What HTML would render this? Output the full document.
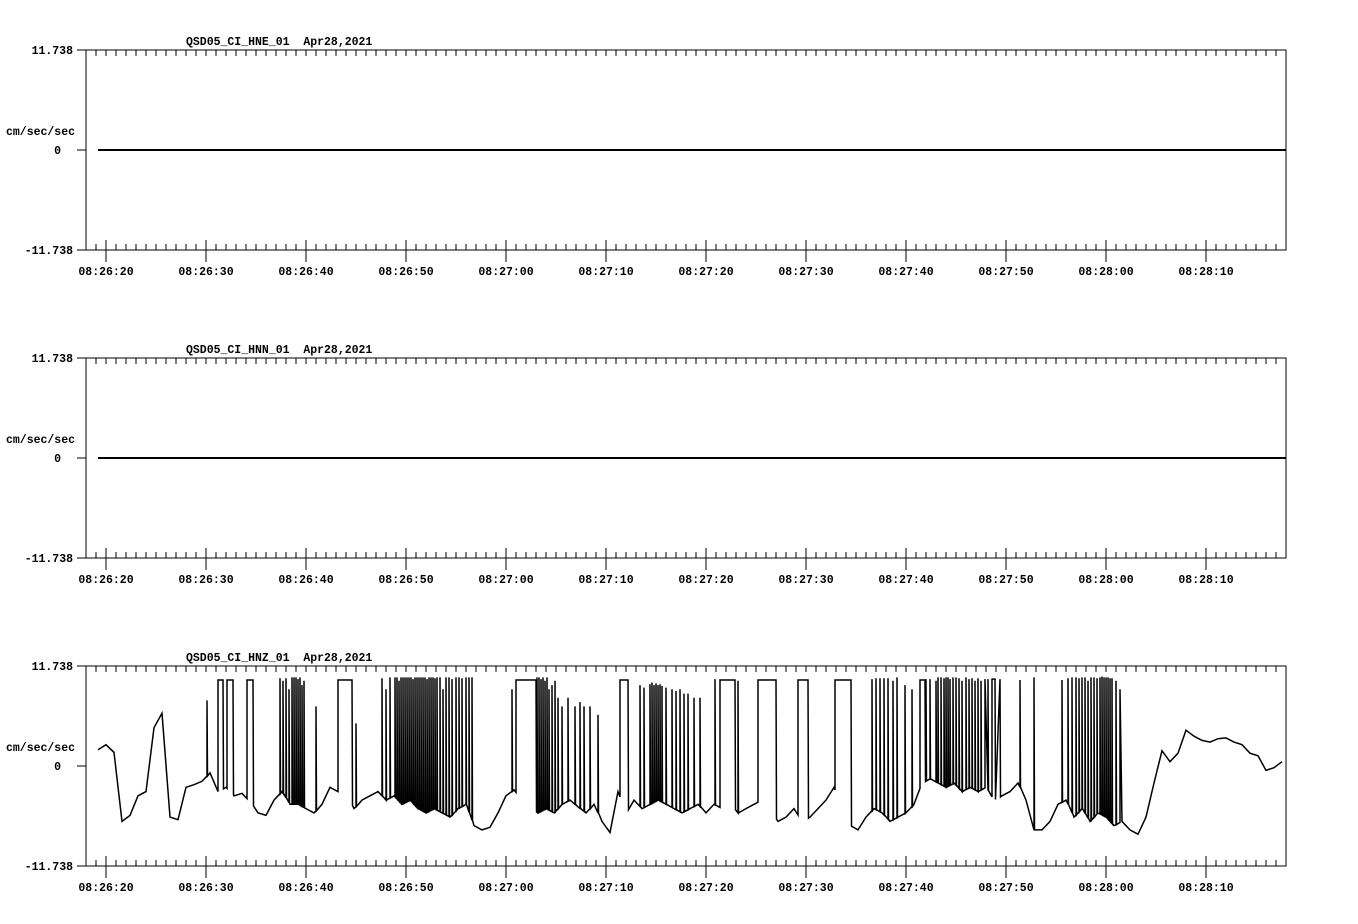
<!DOCTYPE html>
<html><head><meta charset="utf-8"><style>
body{margin:0;background:#fff}
svg{display:block}
text{font-family:"Liberation Mono",monospace;font-weight:bold;font-size:11.5px;fill:#000;white-space:pre}
</style></head><body>
<svg id="chart" width="1358" height="924" viewBox="0 0 1358 924" xmlns="http://www.w3.org/2000/svg"></svg>
<script>
const channels = ["QSD05_CI_HNE_01", "QSD05_CI_HNN_01", "QSD05_CI_HNZ_01"];
const dateLabel = "Apr28,2021";
const yMaxLabel = "11.738";
const yMax = 11.738;
const tickLabels = ["08:26:20","08:26:30","08:26:40","08:26:50","08:27:00","08:27:10","08:27:20","08:27:30","08:27:40","08:27:50","08:28:00","08:28:10"];
// baseline samples every 0.8 s starting at t=-0.8 s (relative to 08:26:20)
const hnzBaseline = [1.9,2.5,1.6,-6.5,-5.8,-3.5,-3.0,4.5,6.2,-6.0,-6.3,-2.5,-2.2,-1.8,-0.8,-3.0,-2.5,-3.5,-3.2,-4.2,-5.5,-5.8,-4.0,-3.0,-4.5,-4.5,-5.0,-5.5,-4.5,-2.5,-3.0,-3.5,-5.0,-4.0,-3.5,-3.0,-4.0,-3.5,-4.5,-4.0,-5.0,-5.5,-5.0,-5.5,-6.0,-5.0,-4.5,-7.0,-7.5,-7.2,-5.5,-3.5,-2.8,-4.0,-5.0,-5.5,-5.0,-5.5,-4.5,-4.0,-4.8,-5.5,-4.5,-6.5,-7.8,-3.0,-5.5,-4.0,-5.0,-4.5,-4.0,-4.5,-5.0,-5.5,-5.0,-4.5,-5.5,-4.5,-5.0,-4.5,-5.5,-5.0,-4.5,-4.0,-5.5,-6.5,-6.0,-5.0,-6.5,-6.0,-5.0,-4.0,-2.5,-5.0,-7.0,-7.5,-6.0,-5.0,-5.5,-6.5,-6.0,-5.5,-4.5,-2.0,-1.5,-2.0,-2.5,-2.0,-3.0,-2.5,-3.0,-2.5,-4.0,-3.5,-3.0,-2.0,-4.0,-7.5,-7.5,-6.5,-4.5,-4.0,-6.0,-5.0,-6.5,-5.5,-6.0,-7.0,-6.5,-7.5,-8.0,-6.0,-2.0,1.8,0.5,1.5,4.2,3.5,3.0,2.8,3.2,3.3,2.8,2.5,1.5,1.2,-0.5,-0.2,0.5,0.4];
// spikes: time (s), peak value, hold (s)
const spikeTimes = [10.1,11.2,12.1,14.1,17.4,17.7,18.0,18.3,18.6,18.8,19.0,19.2,19.4,19.6,19.8,21.0,23.2,25.0,27.6,28.0,28.4,28.9,29.1,29.3,29.5,29.7,29.9,30.1,30.3,30.5,30.7,30.9,31.1,31.3,31.5,31.7,31.9,32.1,32.3,32.5,32.7,32.9,33.1,33.4,33.7,34.0,34.3,34.6,35.0,35.3,35.6,36.0,36.3,36.6,40.6,41.0,43.1,43.3,43.5,43.7,43.9,44.1,44.3,44.6,44.9,45.2,45.6,46.2,46.9,47.4,47.8,48.4,49.2,51.4,53.4,53.8,54.4,54.6,54.8,55.0,55.2,55.4,55.6,56.0,56.6,57.0,57.4,57.8,58.2,58.8,59.4,60.9,61.4,63.2,65.2,69.2,72.9,76.6,77.0,77.4,77.8,78.2,78.7,79.1,79.9,80.6,81.4,82.0,82.4,83.0,83.2,83.5,83.8,84.0,84.2,84.4,84.7,85.0,85.3,85.6,86.0,86.3,86.6,86.9,87.2,87.5,87.9,88.2,88.6,91.4,92.8,95.6,96.2,96.6,97.0,97.3,97.6,97.9,98.2,98.5,98.8,99.1,99.4,99.6,99.8,100.0,100.2,100.4,100.6,101.0,101.4,101.9,102.2];
const spikePeaks = [7.7,10.1,10.1,10.1,10.3,10.0,10.3,9.0,10.4,10.4,10.4,10.2,10.4,9.5,10.0,7.0,10.1,5.0,10.3,9.0,10.4,10.4,10.4,10.0,10.4,10.4,10.4,10.4,10.4,10.4,10.2,10.4,10.4,10.4,10.4,10.4,10.4,10.2,10.4,10.4,10.4,10.3,10.4,10.4,9.0,10.4,10.4,10.2,10.4,10.4,10.3,10.4,10.4,10.4,9.0,10.1,10.4,10.4,10.2,10.4,10.0,10.4,9.0,9.5,10.0,8.0,7.0,8.0,7.0,7.5,7.0,7.0,6.0,10.1,9.5,9.2,9.6,9.8,9.5,9.7,9.5,9.6,9.4,9.2,9.0,8.8,9.0,8.5,8.5,8.0,8.0,10.2,10.1,10.0,10.1,10.1,10.1,10.2,10.3,10.3,10.3,10.3,10.0,10.4,9.5,9.0,10.1,10.2,10.2,10.0,10.4,10.4,10.3,10.4,10.4,10.2,10.4,10.4,10.3,10.0,10.4,10.2,10.3,10.0,10.3,10.0,10.2,10.2,10.2,10.1,10.4,10.1,10.3,10.4,10.4,10.3,10.4,10.4,10.0,10.4,10.4,10.3,10.4,10.5,10.4,10.4,10.4,10.3,10.3,10.0,9.0,10.3,10.3];
const spikeHolds = [0,0.5,0.6,0.6,0,0,0,0,0,0,0,0,0,0,0,0,1.4,0,0,0,0,0,0,0,0,0,0,0,0,0,0,0,0,0,0,0,0,0,0,0,0,0,0,0,0,0,0,0,0,0,0,0,0,0,0,2.0,0,0,0,0,0,0,0,0,0,0,0,0,0,0,0,0,0,0.8,0,0,0,0,0,0,0,0,0,0,0,0,0,0,0,0,0,0,1.5,0,1.8,1.0,1.6,0,0,0,0,0,0,0,0,0,0.5,0,0,0,0,0,0,0,0,0,0,0,0,0,0,0,0,0,0,0,1.0,0,0.8,0,0,0,0,0,0,0,0,0,0,0,0,0,0,0,0,0,0,0,0,0];

const NS="http://www.w3.org/2000/svg";
const svg=document.getElementById('chart');
const X0=86,X1=1286;
const xOf=t=>106+t*10;
function mk(tag,attrs,parent){const e=document.createElementNS(NS,tag);for(const k in attrs)e.setAttribute(k,attrs[k]);(parent||svg).appendChild(e);return e;}
function txt(s,x,y,anchor,parent){const e=mk('text',{x:x,y:y,'text-anchor':anchor},parent);e.textContent=s;return e;}

const panelTops=[50,358,666];
panelTops.forEach((top,pi)=>{
  const g=mk('g',{});
  
  
  const mid=top+100,bot=top+200;
  const yOf=v=>mid-v/yMax*100;
  const title=txt(channels[pi]+'  '+dateLabel,186,top-5,'start',g);
  
  
  const frame=mk('path',{d:`M${X0} ${top}H${X1}V${bot}H${X0}Z`,fill:'none',stroke:'#000','stroke-width':1,'shape-rendering':'crispEdges'},g);
  
  
  let d=`M77 ${top}H${X0}M77 ${mid}H${X0}M77 ${bot}H${X0}`;
  for(let x=96;x<=X1;x+=10){d+=`M${x} ${top}v6`; if((x-106)%100!==0) d+=`M${x} ${bot}v-6`;}
  for(let k=0;k<tickLabels.length;k++){d+=`M${106+100*k} ${bot-10}V${bot+12}`;}
  const ticks=mk('path',{d:d,stroke:'#000','stroke-width':1,fill:'none','shape-rendering':'crispEdges'},g);
  
  
  tickLabels.forEach((s,k)=>{const t=txt(s,106+100*k,bot+25,'middle',g);
    
    });
  const a=txt(yMaxLabel,73,top+4,'end',g);
  
  
  const b=txt('0',61,mid+4,'end',g);
  
  
  const c=txt('-'+yMaxLabel,73,bot+4,'end',g);
  
  
  const u=txt('cm/sec/sec',6,mid-15,'start',g);
  
  
  let tr;
  if(pi<2){
    tr=mk('path',{d:`M98 ${mid}H${X1}`,stroke:'#000','stroke-width':2,fill:'none'},g);
  } else {
    const T0=-0.8,dt=0.8;
    const baseAt=t=>{let i=Math.floor((t-T0)/dt);i=Math.max(0,Math.min(hnzBaseline.length-2,i));const f=(t-T0-i*dt)/dt;return hnzBaseline[i]*(1-f)+hnzBaseline[i+1]*f;};
    const inHold=t=>spikeTimes.some((s,i)=>spikeHolds[i]>0&&t>s&&t<s+spikeHolds[i]);
    const pts=[];
    hnzBaseline.forEach((v,i)=>{const t=T0+i*dt;if(!inHold(t))pts.push([t,v]);});
    spikeTimes.forEach((t,i)=>{const h=spikeHolds[i];const b1=baseAt(t),b2=baseAt(t+h);
      pts.push([t,b1],[t+0.0001,spikePeaks[i]],[t+h+0.0002,spikePeaks[i]],[t+h+0.05,b2]);});
    pts.sort((p,q)=>p[0]-q[0]);
    const tEnd=(X1-106)/10;
    let dd='';let first=true;pts.forEach(p=>{if(p[0]>tEnd)return;dd+=(first?'M':'L')+xOf(p[0]).toFixed(1)+' '+yOf(p[1]).toFixed(1);first=false;});
    tr=mk('path',{d:dd,stroke:'#000','stroke-width':1.5,fill:'none','stroke-linejoin':'miter'},g);
  }
  
  
});
</script>
</body></html>
